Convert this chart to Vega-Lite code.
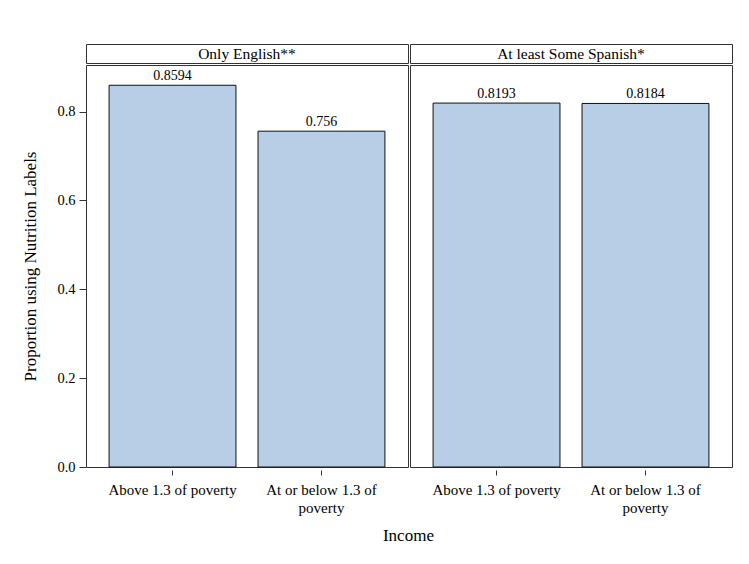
{
  "$schema": "https://vega.github.io/schema/vega-lite/v6.json",
  "background": "white",
  "padding": {"left": 21, "top": 43, "right": 5, "bottom": 5},
  "title": {"text": "Income", "orient": "bottom", "anchor": "middle", "frame": "bounds", "dx": 31.5, "offset": 12, "fontSize": 17, "fontWeight": "normal", "font": "Liberation Serif", "color": "#000"},
  "datasets": {
    "bars": [
      {"lang": "Only English**", "income": "Above 1.3 of poverty", "prop": 0.8594},
      {"lang": "Only English**", "income": "At or below 1.3 of poverty", "prop": 0.756},
      {"lang": "At least Some Spanish*", "income": "Above 1.3 of poverty", "prop": 0.8193},
      {"lang": "At least Some Spanish*", "income": "At or below 1.3 of poverty", "prop": 0.8184}
    ]
  },
  "config": {
    "font": "Liberation Serif",
    "view": {"stroke": "#333", "strokeWidth": 1},
    "axis": {"labelColor": "#000", "titleColor": "#000", "tickColor": "#333", "titleFontWeight": "normal", "grid": false, "domain": false}
  },
  "spacing": 0,
  "hconcat": [
    {
      "spacing": 0,
      "vconcat": [
        {
          "data": {"name": "bars"},
          "transform": [
            {"filter": "datum.lang == 'Only English**'"},
            {"aggregate": [{"op": "count", "as": "n"}], "groupby": ["lang"]}
          ],
          "width": 322,
          "height": 19,
          "view": {"stroke": "#333", "strokeWidth": 1, "fill": "white"},
          "mark": {"type": "text", "fontSize": 15.5, "baseline": "middle", "color": "#000"},
          "encoding": {"text": {"field": "lang", "type": "nominal"}}
        },
        {
          "data": {"name": "bars"},
          "transform": [{"filter": "datum.lang == 'Only English**'"}],
          "width": 322,
          "height": 402,
          "encoding": {
            "x": {
              "field": "income", "type": "nominal", "sort": null,
              "scale": {"paddingInner": 0.148, "paddingOuter": 0.155},
              "axis": {
                "title": null,
                "labelAngle": 0, "labelLimit": 0, "offset": 3, "tickSize": 5, "labelPadding": 7, "labelFontSize": 15, "labelLineHeight": 18,
                "labelExpr": "datum.value == 'At or below 1.3 of poverty' ? ['At or below 1.3 of', 'poverty'] : datum.value"
              }
            },
            "y": {
              "field": "prop", "type": "quantitative",
              "scale": {"domain": [0, 0.905], "nice": false},
              "axis": {
                "title": "Proportion using Nutrition Labels", "values": [0, 0.2, 0.4, 0.6, 0.8], "format": ".1f",
                "tickSize": 7, "labelPadding": 4, "labelFontSize": 14.5, "titleFontSize": 17, "titlePadding": 17
              }
            }
          },
          "layer": [
            {"mark": {"type": "bar", "fill": "#B8CEE6", "stroke": "#111", "strokeWidth": 1}},
            {"mark": {"type": "text", "dy": -5, "baseline": "alphabetic", "fontSize": 14, "color": "#000"},
             "encoding": {"text": {"field": "prop", "type": "nominal"}}}
          ]
        }
      ]
    },
    {
      "spacing": 0,
      "vconcat": [
        {
          "data": {"name": "bars"},
          "transform": [
            {"filter": "datum.lang == 'At least Some Spanish*'"},
            {"aggregate": [{"op": "count", "as": "n"}], "groupby": ["lang"]}
          ],
          "width": 322,
          "height": 19,
          "view": {"stroke": "#333", "strokeWidth": 1, "fill": "white"},
          "mark": {"type": "text", "fontSize": 15.5, "baseline": "middle", "color": "#000"},
          "encoding": {"text": {"field": "lang", "type": "nominal"}}
        },
        {
          "data": {"name": "bars"},
          "transform": [{"filter": "datum.lang == 'At least Some Spanish*'"}],
          "width": 322,
          "height": 402,
          "encoding": {
            "x": {
              "field": "income", "type": "nominal", "sort": null,
              "scale": {"paddingInner": 0.148, "paddingOuter": 0.155},
              "axis": {
                "title": null,
                "labelAngle": 0, "labelLimit": 0, "offset": 3, "tickSize": 5, "labelPadding": 7, "labelFontSize": 15, "labelLineHeight": 18,
                "labelExpr": "datum.value == 'At or below 1.3 of poverty' ? ['At or below 1.3 of', 'poverty'] : datum.value"
              }
            },
            "y": {
              "field": "prop", "type": "quantitative",
              "scale": {"domain": [0, 0.905], "nice": false},
              "axis": null
            }
          },
          "layer": [
            {"mark": {"type": "bar", "fill": "#B8CEE6", "stroke": "#111", "strokeWidth": 1}},
            {"mark": {"type": "text", "dy": -5, "baseline": "alphabetic", "fontSize": 14, "color": "#000"},
             "encoding": {"text": {"field": "prop", "type": "nominal"}}}
          ]
        }
      ]
    }
  ]
}
